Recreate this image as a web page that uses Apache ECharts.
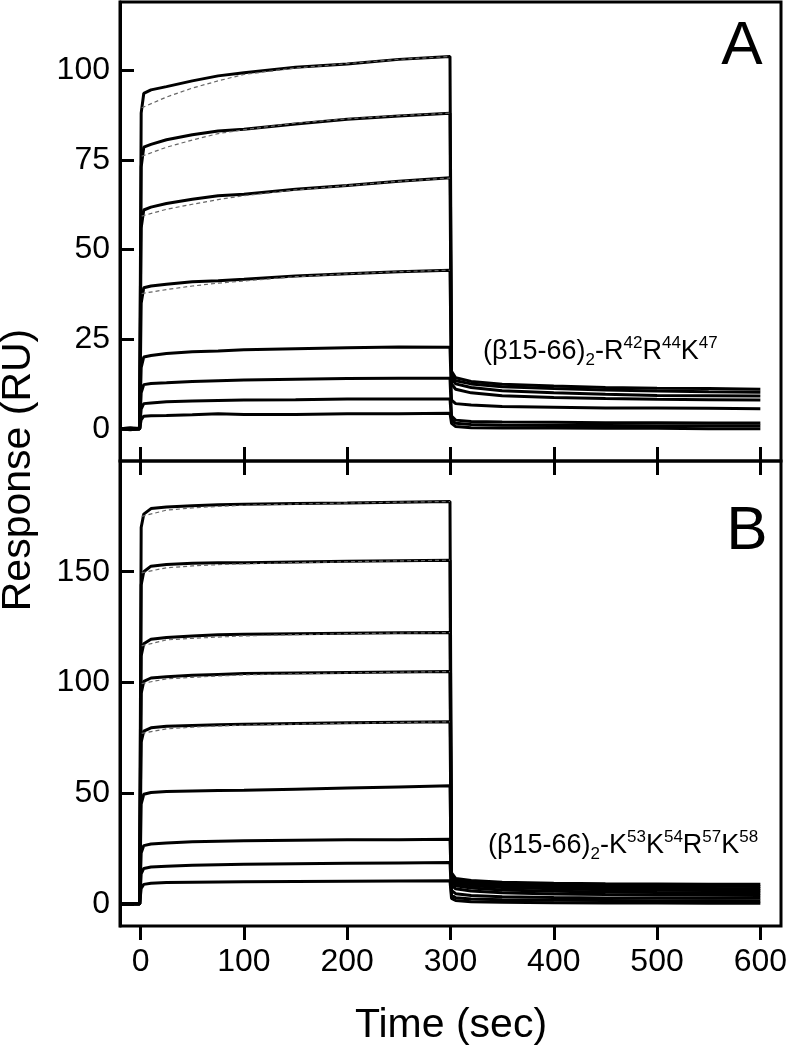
<!DOCTYPE html>
<html>
<head>
<meta charset="utf-8">
<script src="https://cdn.jsdelivr.net/npm/echarts@6/dist/echarts.min.js"></script>
<style>
  html, body { margin: 0; padding: 0; background: #fff; }
  #chart { width: 791px; height: 1050px; }
</style>
</head>
<body>
<div id="chart"></div>
<script>
// sample times shared by every sensorgram (sec)
const times = [-20, -10, -1, 0.5, 3, 10, 25, 50, 75, 100, 150, 200, 250, 299.5, 301, 305, 320, 350, 400, 450, 500, 550, 600]

// panel A: (b15-66)2-R42R44K47, response (RU)
const curvesA = [
    [0, -0.3, 0, 88, 93.5, 94.5, 95.4, 97, 98.4, 99.3, 100.8, 101.7, 103, 103.8, 16, 14.2, 13.2, 12.4, 11.9, 11.5, 11.3, 11.2, 11],
    [0, 0.2, 0, 73, 78.5, 79.3, 80.6, 82, 83, 83.5, 85, 86.3, 87.2, 88, 15, 13.4, 12.5, 11.7, 11.2, 10.8, 10.5, 10.3, 10.2],
    [0, 0, 0.2, 56, 61, 61.8, 62.8, 64, 65, 65.4, 66.8, 67.8, 69, 70, 14, 12.5, 11.5, 10.6, 10, 9.6, 9.3, 9.2, 9.1],
    [0, -0.2, 0, 35, 39.3, 39.8, 40.3, 41, 41.3, 41.7, 42.6, 43.2, 43.8, 44.2, 12.5, 11, 10, 9.2, 8.7, 8.4, 8.2, 8.1, 8],
    [0, 0, 0, 17, 20, 20.4, 21, 21.5, 21.7, 22, 22.3, 22.6, 22.8, 22.7, 8, 7, 6.6, 6.2, 6, 5.8, 5.8, 5.7, 5.6],
    [0, 0.2, 0, 10, 12.3, 12.6, 12.8, 13.2, 13.4, 13.6, 13.8, 14, 14.1, 14.1, 3.5, 2.4, 2, 1.9, 1.8, 1.7, 1.7, 1.6, 1.6],
    [0, 0, 0, 5.5, 7, 7.2, 7.5, 7.7, 7.9, 8, 8.1, 8.3, 8.3, 8.3, 2.5, 1.5, 1.2, 1, 0.9, 0.9, 0.8, 0.8, 0.8],
    [0, -0.2, 0, 2.5, 3.5, 3.6, 3.7, 3.9, 4.2, 4, 4, 4.2, 4.2, 4.3, 1.5, 0.6, 0.3, 0.2, 0.2, 0.1, 0.1, 0, 0]
]

// panel B: (b15-66)2-K53K54R57K58
const curvesB = [
    [0, 0, 0, 170, 176, 178.5, 179.2, 179.8, 180.2, 180.5, 180.8, 181, 181.4, 181.7, 14, 11.5, 10.5, 9.8, 9.3, 9.1, 9, 8.9, 8.8],
    [0, 0, 0, 144, 150, 152.5, 153.3, 153.8, 154, 154.1, 154.4, 154.7, 155, 155.2, 13, 10.8, 9.8, 9, 8.5, 8.2, 8, 7.9, 7.8],
    [0, 0, 0, 112, 117.5, 119.5, 120.3, 121, 121.5, 121.8, 122, 122.2, 122.4, 122.5, 12, 10, 9, 8.2, 7.6, 7.2, 7, 6.9, 6.8],
    [0, 0, 0, 95, 100.5, 102, 102.6, 103.2, 103.6, 104, 104.3, 104.5, 104.7, 104.9, 11, 9.2, 8.2, 7.4, 6.8, 6.4, 6.2, 6, 5.9],
    [0, 0, 0, 73, 78, 79.5, 80.2, 80.6, 80.9, 81.1, 81.5, 81.8, 82, 82.2, 10, 8.2, 7.2, 6.3, 5.7, 5.3, 5.1, 5, 4.9],
    [0, 0, 0, 45, 49.5, 50.3, 50.7, 51, 51.2, 51.3, 51.8, 52.3, 52.8, 53.3, 8.5, 6.8, 5.8, 5, 4.5, 4.2, 4, 3.9, 3.8],
    [0, 0, 0, 23, 26.3, 27, 27.5, 28, 28.3, 28.5, 28.7, 28.9, 29, 29.2, 6, 4.6, 3.8, 3.2, 2.9, 2.7, 2.6, 2.5, 2.5],
    [0, 0, 0, 13.5, 16, 16.6, 17, 17.4, 17.7, 17.9, 18.1, 18.3, 18.5, 18.7, 4, 2.8, 2.2, 1.8, 1.6, 1.5, 1.4, 1.4, 1.3],
    [0, 0, 0, 7, 8.8, 9.3, 9.6, 9.8, 9.9, 10, 10.1, 10.2, 10.3, 10.4, 2.5, 1.5, 1, 0.7, 0.5, 0.4, 0.4, 0.3, 0.3]
]

// fitted association curves (dashed)
const fitTimes = [1, 25, 50, 75, 100, 150, 200, 250, 299.5]
const fitsA = [
    [89.5, 92.5, 95, 97, 98.8, 100.6, 101.8, 103, 103.8],
    [76, 78.5, 80.5, 82.3, 83.4, 85.2, 86.4, 87.3, 88],
    [59.3, 61.2, 62.6, 63.9, 65, 66.6, 67.8, 69, 69.9],
    [37.7, 38.8, 39.8, 40.6, 41.2, 42.4, 43.2, 43.8, 44.2]
]
const fitsB = [
    [175, 177.8, 178.8, 179.5, 180, 180.6, 181, 181.4, 181.7],
    [149.5, 151.8, 152.6, 153.2, 153.6, 154.1, 154.5, 154.9, 155.2],
    [116.5, 119.2, 119.9, 120.5, 121, 121.6, 122, 122.3, 122.5],
    [99.5, 101.6, 102.3, 102.9, 103.4, 103.9, 104.3, 104.6, 104.9],
    [77, 79, 79.8, 80.3, 80.7, 81.2, 81.6, 81.9, 82.2]
]

const xTicks = [0, 100, 200, 300, 400, 500, 600]
const yTicksA = [0, 25, 50, 75, 100]
const yTicksB = [0, 50, 100, 150]

const font = 'Liberation Sans, Arial, sans-serif'
const chart = echarts.init(document.getElementById('chart'))

const series = []
const addCurves = (curves, axisIdx) => {
    curves.forEach(vals => {
        series.push({
            type: 'line', xAxisIndex: axisIdx, yAxisIndex: axisIdx, showSymbol: false,
            lineStyle: { color: '#000', width: 3 },
            data: times.map((t, i) => [t, vals[i]])
        })
    })
}
const addFits = (fits, axisIdx) => {
    fits.forEach(vals => {
        series.push({
            type: 'line', xAxisIndex: axisIdx, yAxisIndex: axisIdx, showSymbol: false, z: 3,
            lineStyle: { color: '#666', width: 1.2, type: [4, 3] },
            data: fitTimes.map((t, i) => [t, vals[i]])
        })
    })
}
addCurves(curvesA, 0)
addCurves(curvesB, 1)
addFits(fitsA, 0)
addFits(fitsB, 1)

const tickStyle = { color: '#000', width: 3 }

const option = {
    backgroundColor: '#fff',
    animation: false,
    grid: [
        { left: 120, top: 2, width: 661, height: 459, show: true, borderColor: '#000', borderWidth: 3 },
        { left: 120, top: 461, width: 661, height: 465, show: true, borderColor: '#000', borderWidth: 3 }
    ],
    xAxis: [
        {
            gridIndex: 0, type: 'value', min: -20, max: 620, position: 'bottom',
            axisLine: { show: false, onZero: false }, splitLine: { show: false },
            axisTick: { show: true, inside: true, length: 14, lineStyle: tickStyle, customValues: xTicks },
            axisLabel: { show: false }
        },
        {
            gridIndex: 1, type: 'value', min: -20, max: 620, position: 'bottom',
            axisLine: { show: false, onZero: false }, splitLine: { show: false },
            axisTick: { show: true, inside: false, length: 14, lineStyle: tickStyle, customValues: xTicks },
            axisLabel: { color: '#000', fontSize: 32, fontFamily: font, margin: 20, customValues: xTicks }
        },
        {
            gridIndex: 1, type: 'value', min: -20, max: 620, position: 'top',
            axisLine: { show: false, onZero: false }, splitLine: { show: false },
            axisTick: { show: true, inside: true, length: 14, lineStyle: tickStyle, customValues: xTicks },
            axisLabel: { show: false }
        }
    ],
    yAxis: [
        {
            gridIndex: 0, type: 'value', min: -9, max: 119,
            axisLine: { show: true, onZero: false, lineStyle: tickStyle }, splitLine: { show: false },
            axisTick: { show: true, inside: true, length: 14, lineStyle: tickStyle, customValues: yTicksA },
            axisLabel: { color: '#000', fontSize: 32, fontFamily: font, margin: 10, customValues: yTicksA }
        },
        {
            gridIndex: 1, type: 'value', min: -10, max: 200,
            axisLine: { show: true, onZero: false, lineStyle: tickStyle }, splitLine: { show: false },
            axisTick: { show: true, inside: true, length: 14, lineStyle: tickStyle, customValues: yTicksB },
            axisLabel: { color: '#000', fontSize: 32, fontFamily: font, margin: 10, customValues: yTicksB }
        }
    ],
    graphic: [
        {
            type: 'text', x: 19, y: 470, rotation: Math.PI / 2,
            style: { text: 'Response (RU)', font: '41px ' + font, fill: '#000', textAlign: 'center', textVerticalAlign: 'middle' }
        },
        {
            type: 'text', x: 451, y: 1026,
            style: { text: 'Time (sec)', font: '41px ' + font, fill: '#000', textAlign: 'center', textVerticalAlign: 'middle' }
        },
        {
            type: 'text', x: 742, y: 47,
            style: { text: 'A', font: '62px ' + font, fill: '#000', textAlign: 'center', textVerticalAlign: 'middle' }
        },
        {
            type: 'text', x: 747, y: 532,
            style: { text: 'B', font: '62px ' + font, fill: '#000', textAlign: 'center', textVerticalAlign: 'middle' }
        },
        {
            type: 'text', x: 483, y: 335,
            style: {
                text: '(β15-66){sub|2}-R{sup|42}R{sup|44}K{sup|47}',
                font: '27px ' + font, fill: '#000', textAlign: 'left', textVerticalAlign: 'top', lineHeight: 34,
                rich: {
                    sup: { fontSize: 17, lineHeight: 22, verticalAlign: 'top', fontFamily: font },
                    sub: { fontSize: 17, lineHeight: 22, verticalAlign: 'bottom', fontFamily: font }
                }
            }
        },
        {
            type: 'text', x: 488, y: 829,
            style: {
                text: '(β15-66){sub|2}-K{sup|53}K{sup|54}R{sup|57}K{sup|58}',
                font: '27px ' + font, fill: '#000', textAlign: 'left', textVerticalAlign: 'top', lineHeight: 34,
                rich: {
                    sup: { fontSize: 17, lineHeight: 22, verticalAlign: 'top', fontFamily: font },
                    sub: { fontSize: 17, lineHeight: 22, verticalAlign: 'bottom', fontFamily: font }
                }
            }
        }
    ],
    series: series
}
chart.setOption(option)
</script>
</body>
</html>
